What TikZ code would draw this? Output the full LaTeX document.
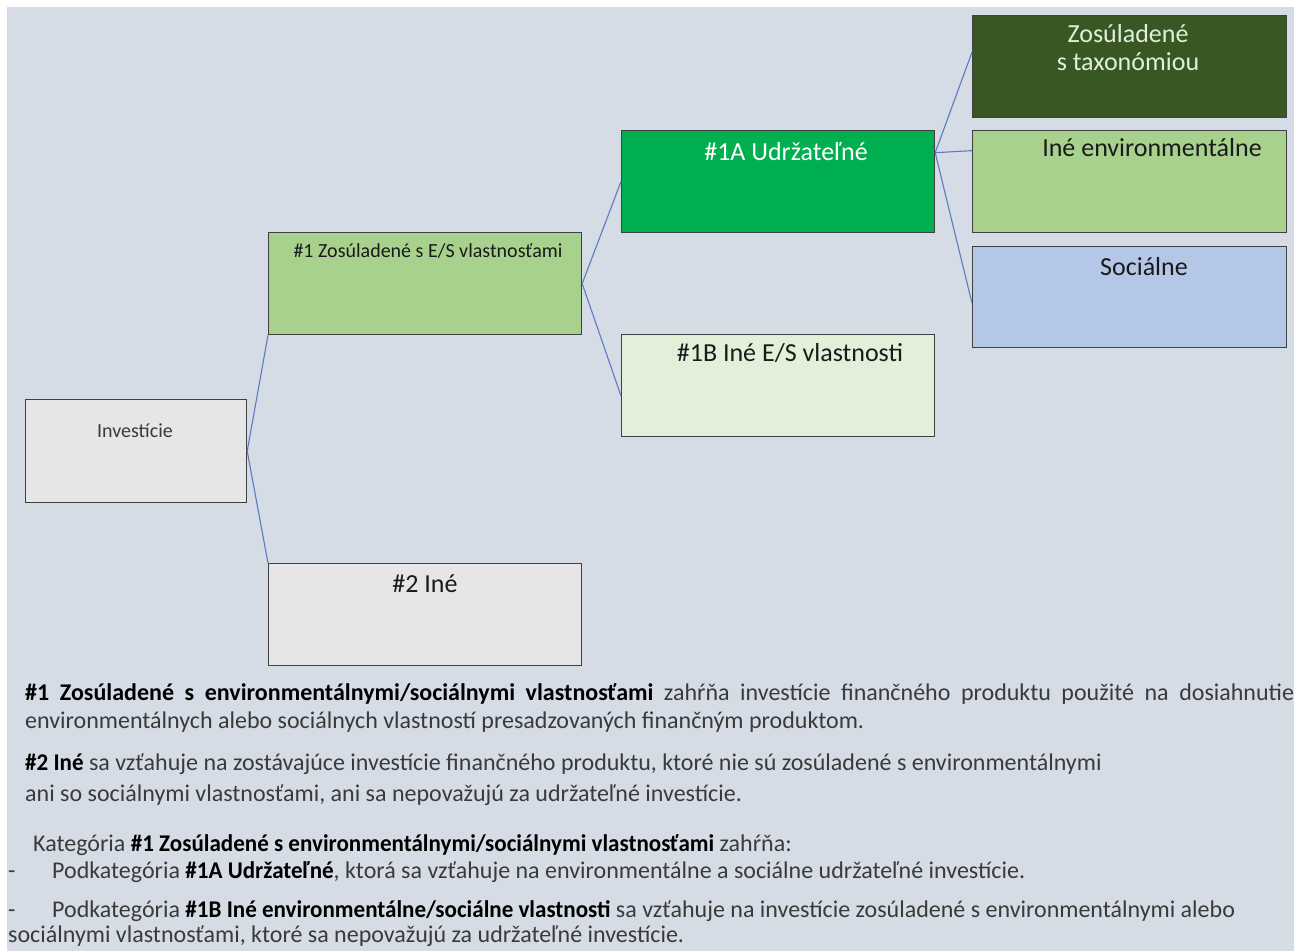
\documentclass[tikz,border=0pt]{standalone}
\usepackage{fontspec}
\usepackage{graphicx}
\setmainfont{Carlito}
\usetikzlibrary{calc}
\definecolor{bgc}{HTML}{D6DCE5}
\definecolor{boxline}{HTML}{404040}
\definecolor{connc}{HTML}{5B7BC0}
\definecolor{greyfill}{HTML}{E7E6E6}
\definecolor{lightgreen}{HTML}{A9D18E}
\definecolor{brightgreen}{HTML}{00B050}
\definecolor{palegreen}{HTML}{E2F0D9}
\definecolor{darkgreen}{HTML}{385723}
\definecolor{lightblue}{HTML}{B4C7E7}
\definecolor{txt}{HTML}{1A1A1A}
\definecolor{bodytxt}{HTML}{3A3A3A}
\newcommand{\bfn}[1]{\scalebox{0.96}[1]{\textbf{\color{black}#1}}}
\begin{document}
\begin{tikzpicture}[x=1pt,y=-1pt,
  box/.style={draw=boxline, line width=1.2pt, inner sep=0pt, anchor=north west},
  conn/.style={draw=connc, line width=1.1pt},
  lbl/.style={inner sep=0pt, anchor=base, font=\fontsize{26}{28}\selectfont, text=txt},
  smalllbl/.style={lbl, font=\fontsize{20}{24}\selectfont},
  body/.style={inner sep=0pt, anchor=base west, font=\fontsize{24}{28}\selectfont, text=bodytxt}]
\useasboundingbox (0,0) rectangle (1294,951);
\fill[white] (0,0) rectangle (1294,951);
\fill[bgc] (7,7) rectangle (1294,951);

% boxes
\node[box, fill=greyfill, minimum width=221pt, minimum height=103pt] (inv) at (25,399) {};
\node[box, fill=lightgreen, minimum width=313pt, minimum height=102pt] (b1) at (268,232) {};
\node[box, fill=greyfill, minimum width=313pt, minimum height=102pt] (b2) at (268,563) {};
\node[box, fill=brightgreen, minimum width=313pt, minimum height=102pt] (b1a) at (621,130) {};
\node[box, fill=palegreen, minimum width=313pt, minimum height=102pt] (b1b) at (621,334) {};
\node[box, fill=darkgreen, minimum width=314pt, minimum height=102pt] (tax) at (972,15) {};
\node[box, fill=lightgreen, minimum width=314pt, minimum height=102pt] (env) at (972,130) {};
\node[box, fill=lightblue, minimum width=314pt, minimum height=101pt] (soc) at (972,246) {};

% connector end points
\coordinate (b1bin) at ($(b1b.north west)!0.6!(b1b.south west)$);
\coordinate (b1aout) at ($(b1a.north east)!0.22!(b1a.south east)$);
\coordinate (taxin) at ($(tax.north west)!0.36!(tax.south west)$);
\coordinate (envin) at ($(env.north west)!0.2!(env.south west)$);
\coordinate (socin) at ($(soc.north west)!0.56!(soc.south west)$);

% connectors
\draw[conn] (inv.east) -- (b1.south west);
\draw[conn] (inv.east) -- (b2.north west);
\draw[conn] (b1.east) -- (b1a.west);
\draw[conn] (b1.east) -- (b1bin);
\draw[conn] (b1aout) -- (taxin);
\draw[conn] (b1aout) -- (envin);
\draw[conn] (b1aout) -- (socin);

% box labels
\node[smalllbl, text=bodytxt] (tinv) at (135,437) {Investície};
\node[smalllbl] (tb1) at (428,257) {\#1 Zosúladené s E/S vlastnosťami};
\node[lbl] (tb2) at (425,592) {\#2 Iné};
\node[lbl, text=white] (tb1a) at (786,160) {\#1A Udržateľné};
\node[lbl] (tb1b) at (790,361) {\#1B Iné E/S vlastnosti};
\node[lbl, text=palegreen] (ttax1) at (1128,42) {Zosúladené};
\node[lbl, text=palegreen] (ttax2) at (1128,70) {s taxonómiou};
\node[lbl] (tenv) at (1152,156) {Iné environmentálne};
\node[lbl] (tsoc) at (1144,275) {Sociálne};

% explanatory text
\node[body] (p1) at (25,700) {\makebox[1269pt][s]{\textbf{\color{black}\#1 Zosúladené s environmentálnymi/sociálnymi vlastnosťami} zahŕňa investície finančného produktu použité na dosiahnutie}};
\node[body] (p2) at (25,728) {environmentálnych alebo sociálnych vlastností presadzovaných finančným produktom.};
\node[body] (p3) at (25,770) {\bfn{\#2 Iné} sa vzťahuje na zostávajúce investície finančného produktu, ktoré nie sú zosúladené s environmentálnymi};
\node[body] (p4) at (25,801) {ani so sociálnymi vlastnosťami, ani sa nepovažujú za udržateľné investície.};
\node[body] (p5) at (33,851) {Kategória \bfn{\#1 Zosúladené s environmentálnymi/sociálnymi vlastnosťami} zahŕňa:};
\node[body] (d6) at (8,878) {-};
\node[body] (p6) at (52,878) {Podkategória \bfn{\#1A Udržateľné}, ktorá sa vzťahuje na environmentálne a sociálne udržateľné investície.};
\node[body] (d7) at (8,917) {-};
\node[body] (p7) at (52,917) {Podkategória \bfn{\#1B Iné environmentálne/sociálne vlastnosti} sa vzťahuje na investície zosúladené s environmentálnymi alebo};
\node[body] (p8) at (8,942) {sociálnymi vlastnosťami, ktoré sa nepovažujú za udržateľné investície.};
\end{tikzpicture}
\end{document}
